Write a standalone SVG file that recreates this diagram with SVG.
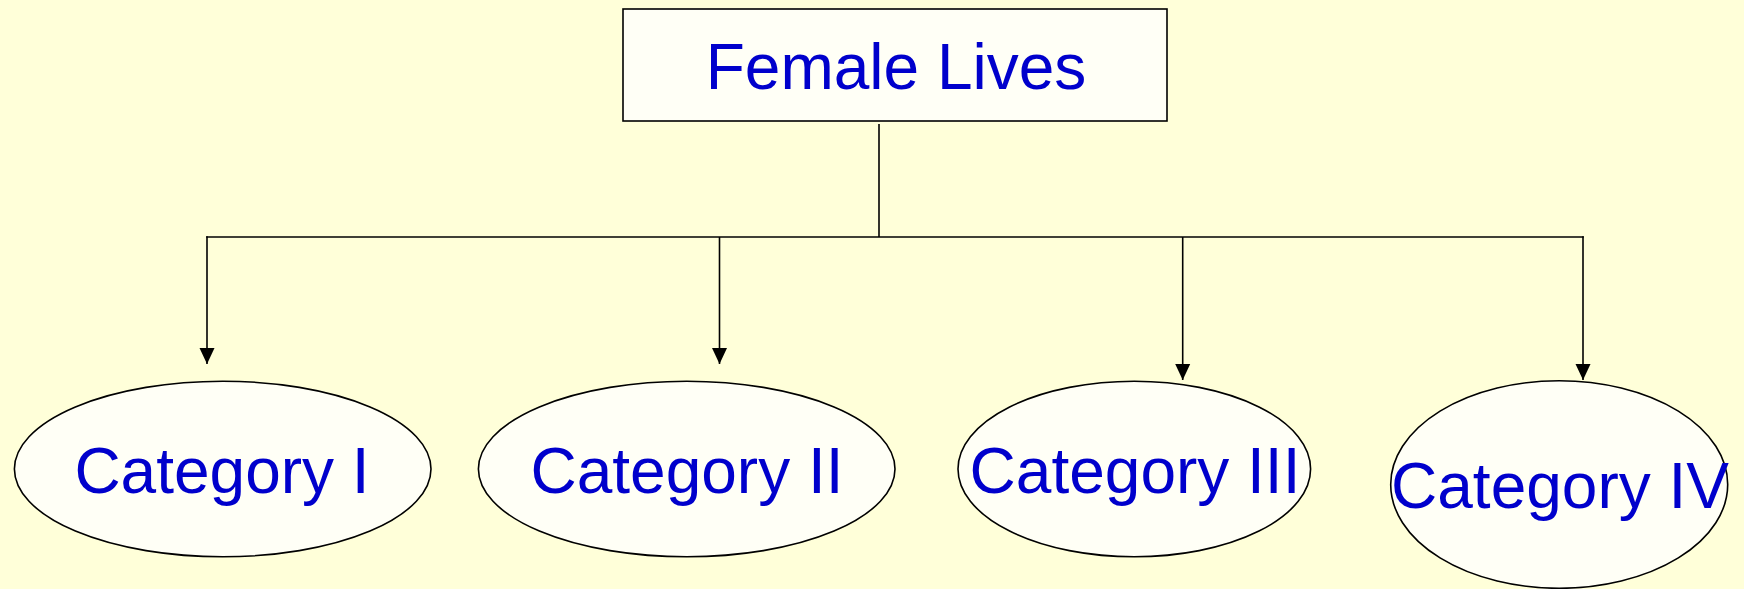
<svg xmlns="http://www.w3.org/2000/svg" width="1744" height="589" viewBox="0 0 1744 589">
  <style>
    .node { fill: #FFFFF6; stroke: #000000; stroke-width: 1.6; }
    .label { font-family: "Liberation Sans", Arial, sans-serif; font-size: 64px; fill: #0000CC; text-anchor: middle; }
    .wire { fill: none; stroke: #000000; stroke-width: 1.6; }
  </style>
  <defs>
    <marker id="arrow" markerUnits="userSpaceOnUse" viewBox="0 0 16 16" refX="16" refY="8" markerWidth="16" markerHeight="16" orient="auto">
      <path d="M0,0.5 L16,8 L0,15.5 Z" fill="#000000"/>
    </marker>
  </defs>

  <rect x="0" y="0" width="1744" height="589" fill="#FFFFD9"/>

  <!-- connectors: trunk, bus and four drops -->
  <g id="connectors">
    <line class="wire" x1="879" y1="124" x2="879" y2="237"/>
    <line class="wire" x1="206.2" y1="237" x2="1583.8" y2="237"/>
    <line class="wire" x1="207" y1="236.2" x2="207" y2="364" marker-end="url(#arrow)"/>
    <line class="wire" x1="719.5" y1="237" x2="719.5" y2="364" marker-end="url(#arrow)"/>
    <line class="wire" x1="1182.7" y1="237" x2="1182.7" y2="380" marker-end="url(#arrow)"/>
    <line class="wire" x1="1583" y1="236.2" x2="1583" y2="380" marker-end="url(#arrow)"/>
  </g>

  <g id="female-lives">
    <rect class="node" x="623" y="9" width="544" height="112"/>
    <text class="label" x="896" y="89">Female Lives</text>
  </g>

  <g id="category-1">
    <ellipse class="node" cx="222.7" cy="469" rx="208.3" ry="87.8"/>
    <text class="label" x="222" y="493">Category I</text>
  </g>

  <g id="category-2">
    <ellipse class="node" cx="686.7" cy="469" rx="208.3" ry="87.8"/>
    <text class="label" x="687" y="493">Category II</text>
  </g>

  <g id="category-3">
    <ellipse class="node" cx="1134.3" cy="469" rx="176.3" ry="87.8"/>
    <text class="label" x="1135" y="493">Category III</text>
  </g>

  <g id="category-4">
    <ellipse class="node" cx="1559.2" cy="484.5" rx="168.5" ry="103.8"/>
    <text class="label" x="1560" y="508">Category IV</text>
  </g>
</svg>
